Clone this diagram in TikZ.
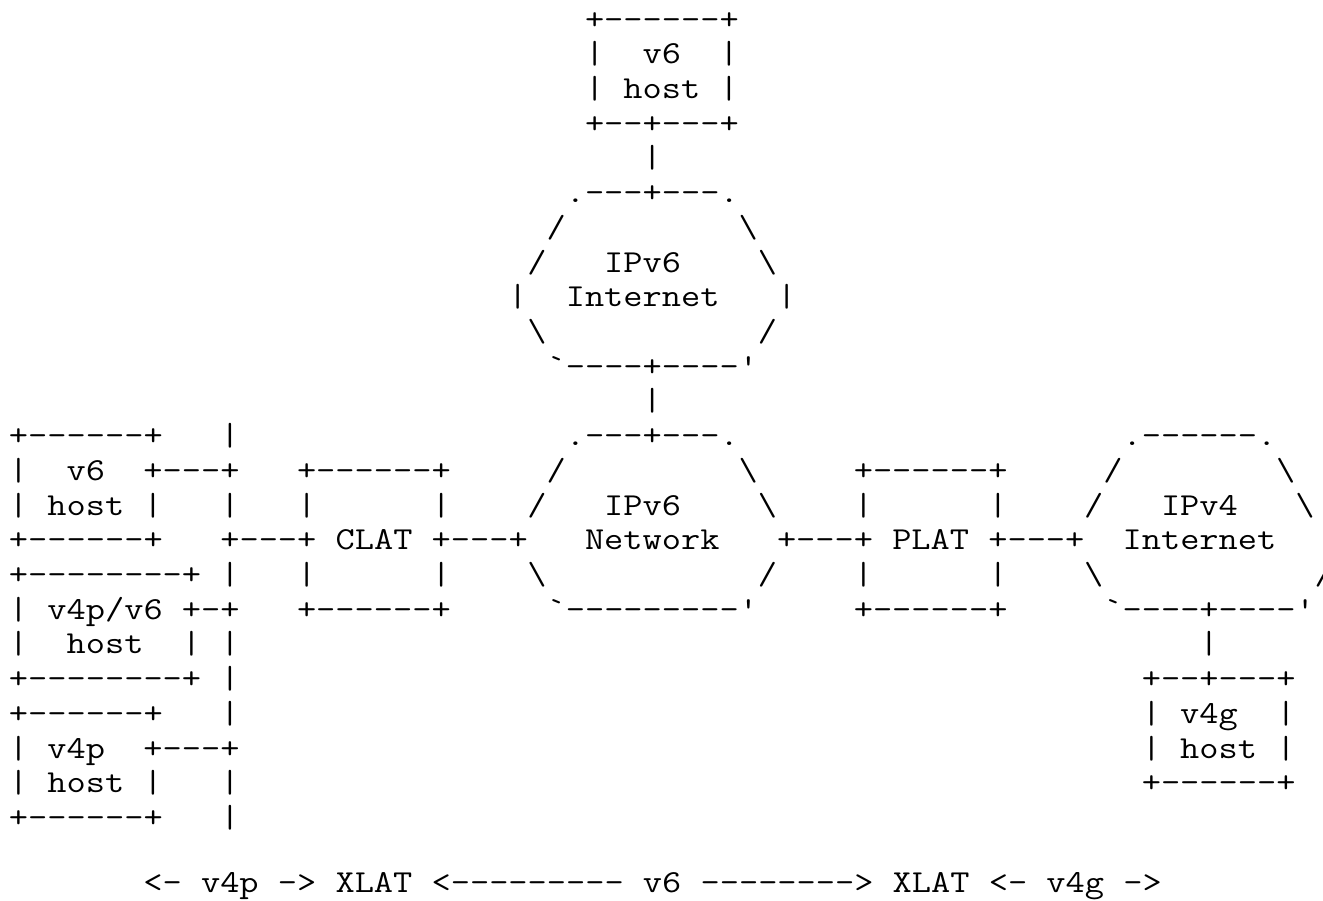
\documentclass[tikz,border=0pt]{standalone}
\usepackage{fontspec}
\newfontfamily\asciifont[FakeStretch=1.166]{Latin Modern Mono}
\newcommand{\colw}{19.2}
\newcommand{\rowh}{34.72}
\tikzset{asciitext/.style={anchor=base west,inner sep=0pt,outer sep=0pt,font=\asciifont\fontsize{32}{32}\selectfont,text=black}}
% \T{name}{column}{row}{text}
\newcommand{\T}[4]{\node[asciitext] (#1) at ({9+#2*\colw},{29+#3*\rowh}) {#4};}
\newcommand{\bs}{\symbol{92}}
\begin{document}
\begin{tikzpicture}[x=1pt,y=-1pt]
\useasboundingbox (0,0) rectangle (1323,900);
\fill[white] (0,0) rectangle (1323,900);
% top host
\T{a0}{30}{0}{+------+}
\T{a1}{30}{1}{|~~v6~~|}
\T{a2}{30}{2}{|~host~|}
\T{a3}{30}{3}{+--+---+}
\T{a4}{33}{4}{|}
% IPv6 Internet
\T{b0}{29}{5}{.---+---.}
\T{b1}{28}{6}{/}
\T{b1r}{38}{6}{\bs}
\T{b2}{27}{7}{/}
\T{b2t}{31}{7}{IPv6}
\T{b2r}{39}{7}{\bs}
\T{b3}{26}{8}{|}
\T{b3t}{29}{8}{Internet}
\T{b3r}{40}{8}{|}
\T{b4}{27}{9}{\bs}
\T{b4r}{39}{9}{/}
\T{b5}{28}{10}{`----+----'}
\T{b6}{33}{11}{|}
% left hosts
\T{c12}{0}{12}{+------+~~~|}
\T{c13}{0}{13}{|~~v6~~+---+}
\T{c14}{0}{14}{|~host~|~~~|}
\T{c15}{0}{15}{+------+~~~+---+~CLAT~+---+}
\T{c16}{0}{16}{+--------+~|}
\T{c17}{0}{17}{|~v4p/v6~+-+}
\T{c18}{0}{18}{|~~host~~|~|}
\T{c19}{0}{19}{+--------+~|}
\T{c20}{0}{20}{+------+~~~|}
\T{c21}{0}{21}{|~v4p~~+---+}
\T{c22}{0}{22}{|~host~|~~~|}
\T{c23}{0}{23}{+------+~~~|}
% CLAT box
\T{d13}{15}{13}{+------+}
\T{d14}{15}{14}{|~~~~~~|}
\T{d16}{15}{16}{|~~~~~~|}
\T{d17}{15}{17}{+------+}
% IPv6 Network
\T{e12}{29}{12}{.---+---.}
\T{e13}{28}{13}{/}
\T{e13r}{38}{13}{\bs}
\T{e14}{27}{14}{/}
\T{e14t}{31}{14}{IPv6}
\T{e14r}{39}{14}{\bs}
\T{e15t}{30}{15}{Network}
\T{e16}{27}{16}{\bs}
\T{e16r}{39}{16}{/}
\T{e17}{28}{17}{`---------'}
% PLAT
\T{f13}{44}{13}{+------+}
\T{f14}{44}{14}{|~~~~~~|}
\T{f15}{40}{15}{+---+~PLAT~+---+}
\T{f16}{44}{16}{|~~~~~~|}
\T{f17}{44}{17}{+------+}
% IPv4 Internet
\T{g12}{58}{12}{.------.}
\T{g13}{57}{13}{/}
\T{g13r}{66}{13}{\bs}
\T{g14}{56}{14}{/}
\T{g14t}{60}{14}{IPv4}
\T{g14r}{67}{14}{\bs}
\T{g15t}{58}{15}{Internet}
\T{g16}{56}{16}{\bs}
\T{g16r}{68}{16}{/}
\T{g17}{57}{17}{`----+----'}
\T{g18}{62}{18}{|}
% v4g host
\T{h19}{59}{19}{+--+---+}
\T{h20}{59}{20}{|~v4g~~|}
\T{h21}{59}{21}{|~host~|}
\T{h22}{59}{22}{+------+}
% legend
\T{z}{7}{24.87}{<-~v4p~->~XLAT~<---------~v6~-------->~XLAT~<-~v4g~->}
\end{tikzpicture}
\end{document}
